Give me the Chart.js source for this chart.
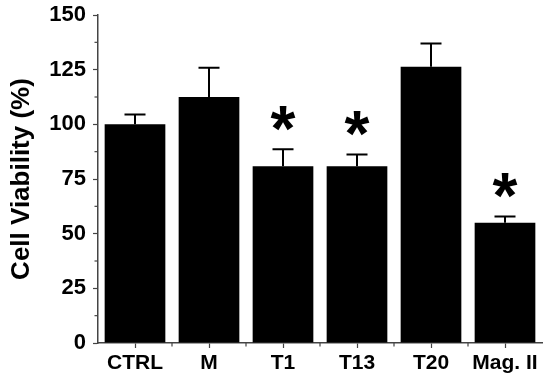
<!DOCTYPE html>
<html lang="en">
<head>
    <meta charset="UTF-8">
    <title>Cell Viability</title>
    <script src="https://cdn.jsdelivr.net/npm/chart.js"></script>
    <style>
        body { margin: 0; background: #fff; }
    </style>
</head>
<body>
    <canvas id="viabilityChart" width="550" height="381"></canvas>
    <script>
// data
const groups = ['CTRL', 'M', 'T1', 'T13', 'T20', 'Mag. II'];
const viability = [100, 112.5, 80.8, 80.8, 126.3, 55];
const sem = [4.5, 13.4, 7.8, 5.4, 10.7, 2.8];
const significant = [false, false, true, true, false, true];
const yTicks = [0, 25, 50, 75, 100, 125, 150];

const axisColor = '#444';
const fontFamily = '"Liberation Sans", Arial, sans-serif';

// error bars, minor ticks and asterisks
const extrasPlugin = {
    id: 'extras',
    afterDatasetsDraw(chart) {
        const ctx = chart.ctx;
        const x = chart.scales.x;
        const y = chart.scales.y;
        const meta = chart.getDatasetMeta(0);
        ctx.save();

        // error bars (upper only)
        ctx.strokeStyle = '#000';
        ctx.lineWidth = 2;
        meta.data.forEach((bar, i) => {
            const top = y.getPixelForValue(viability[i] + sem[i]);
            const base = y.getPixelForValue(viability[i]);
            ctx.beginPath();
            ctx.moveTo(bar.x, base);
            ctx.lineTo(bar.x, top);
            ctx.moveTo(bar.x - 10.5, top);
            ctx.lineTo(bar.x + 10.5, top);
            ctx.stroke();
        });

        // minor ticks
        ctx.strokeStyle = axisColor;
        ctx.lineWidth = 1.2;
        for (let v = 12.5; v < 150; v += 25) {
            const py = y.getPixelForValue(v);
            ctx.beginPath();
            ctx.moveTo(x.left, py);
            ctx.lineTo(x.left - 3.5, py);
            ctx.stroke();
        }
        for (let i = 1; i < groups.length; i++) {
            const px = (x.getPixelForValue(i - 1) + x.getPixelForValue(i)) / 2;
            ctx.beginPath();
            ctx.moveTo(px, y.bottom);
            ctx.lineTo(px, y.bottom + 3.5);
            ctx.stroke();
        }

        // significance asterisks
        ctx.fillStyle = '#000';
        ctx.font = 'bold 64px ' + fontFamily;
        ctx.textAlign = 'center';
        ctx.textBaseline = 'alphabetic';
        const m = ctx.measureText('*');
        const mid = (m.actualBoundingBoxAscent - m.actualBoundingBoxDescent) / 2;
        meta.data.forEach((bar, i) => {
            if (!significant[i]) return;
            const cy = y.getPixelForValue(viability[i] + sem[i]) - 31;
            ctx.fillText('*', bar.x, cy + mid);
        });
        ctx.restore();
    }
};

const ctx = document.getElementById('viabilityChart').getContext('2d');
new Chart(ctx, {
    type: 'bar',
    data: {
        labels: groups,
        datasets: [{
            label: 'Cell Viability',
            data: viability,
            backgroundColor: '#000',
            borderWidth: 0,
            barPercentage: 0.82,
            categoryPercentage: 1
        }]
    },
    options: {
        responsive: false,
        animation: false,
        layout: { padding: { top: 15, right: 8, left: 0, bottom: 0 } },
        plugins: {
            legend: { display: false },
            tooltip: { enabled: false }
        },
        scales: {
            x: {
                offset: true,
                afterFit: (scale) => { scale.height = 38; },
                grid: {
                    offset: false,
                    drawOnChartArea: false,
                    tickLength: 5,
                    tickColor: axisColor,
                    tickWidth: 1.2
                },
                border: { color: axisColor, width: 1.5 },
                ticks: {
                    color: '#000',
                    padding: 3,
                    maxRotation: 0,
                    minRotation: 0,
                    autoSkip: false,
                    font: { family: fontFamily, size: 21, weight: 'bold' }
                }
            },
            y: {
                min: 0,
                max: 150,
                afterFit: (scale) => {
                    scale.width = 98;
                    scale.paddingTop = 0;
                    scale.paddingBottom = 0;
                },
                afterBuildTicks: (scale) => { scale.ticks = yTicks.map(v => ({ value: v })); },
                grid: {
                    drawOnChartArea: false,
                    tickLength: 5,
                    tickColor: axisColor,
                    tickWidth: 1.2
                },
                border: { color: axisColor, width: 1.5 },
                ticks: {
                    color: '#000',
                    padding: 7,
                    font: { family: fontFamily, size: 22, weight: 'bold' }
                },
                title: {
                    display: true,
                    text: 'Cell Viability (%)',
                    color: '#000',
                    padding: { top: 6, bottom: 0 },
                    font: { family: fontFamily, size: 26, weight: 'bold' }
                }
            }
        }
    },
    plugins: [extrasPlugin]
});
    </script>
</body>
</html>
